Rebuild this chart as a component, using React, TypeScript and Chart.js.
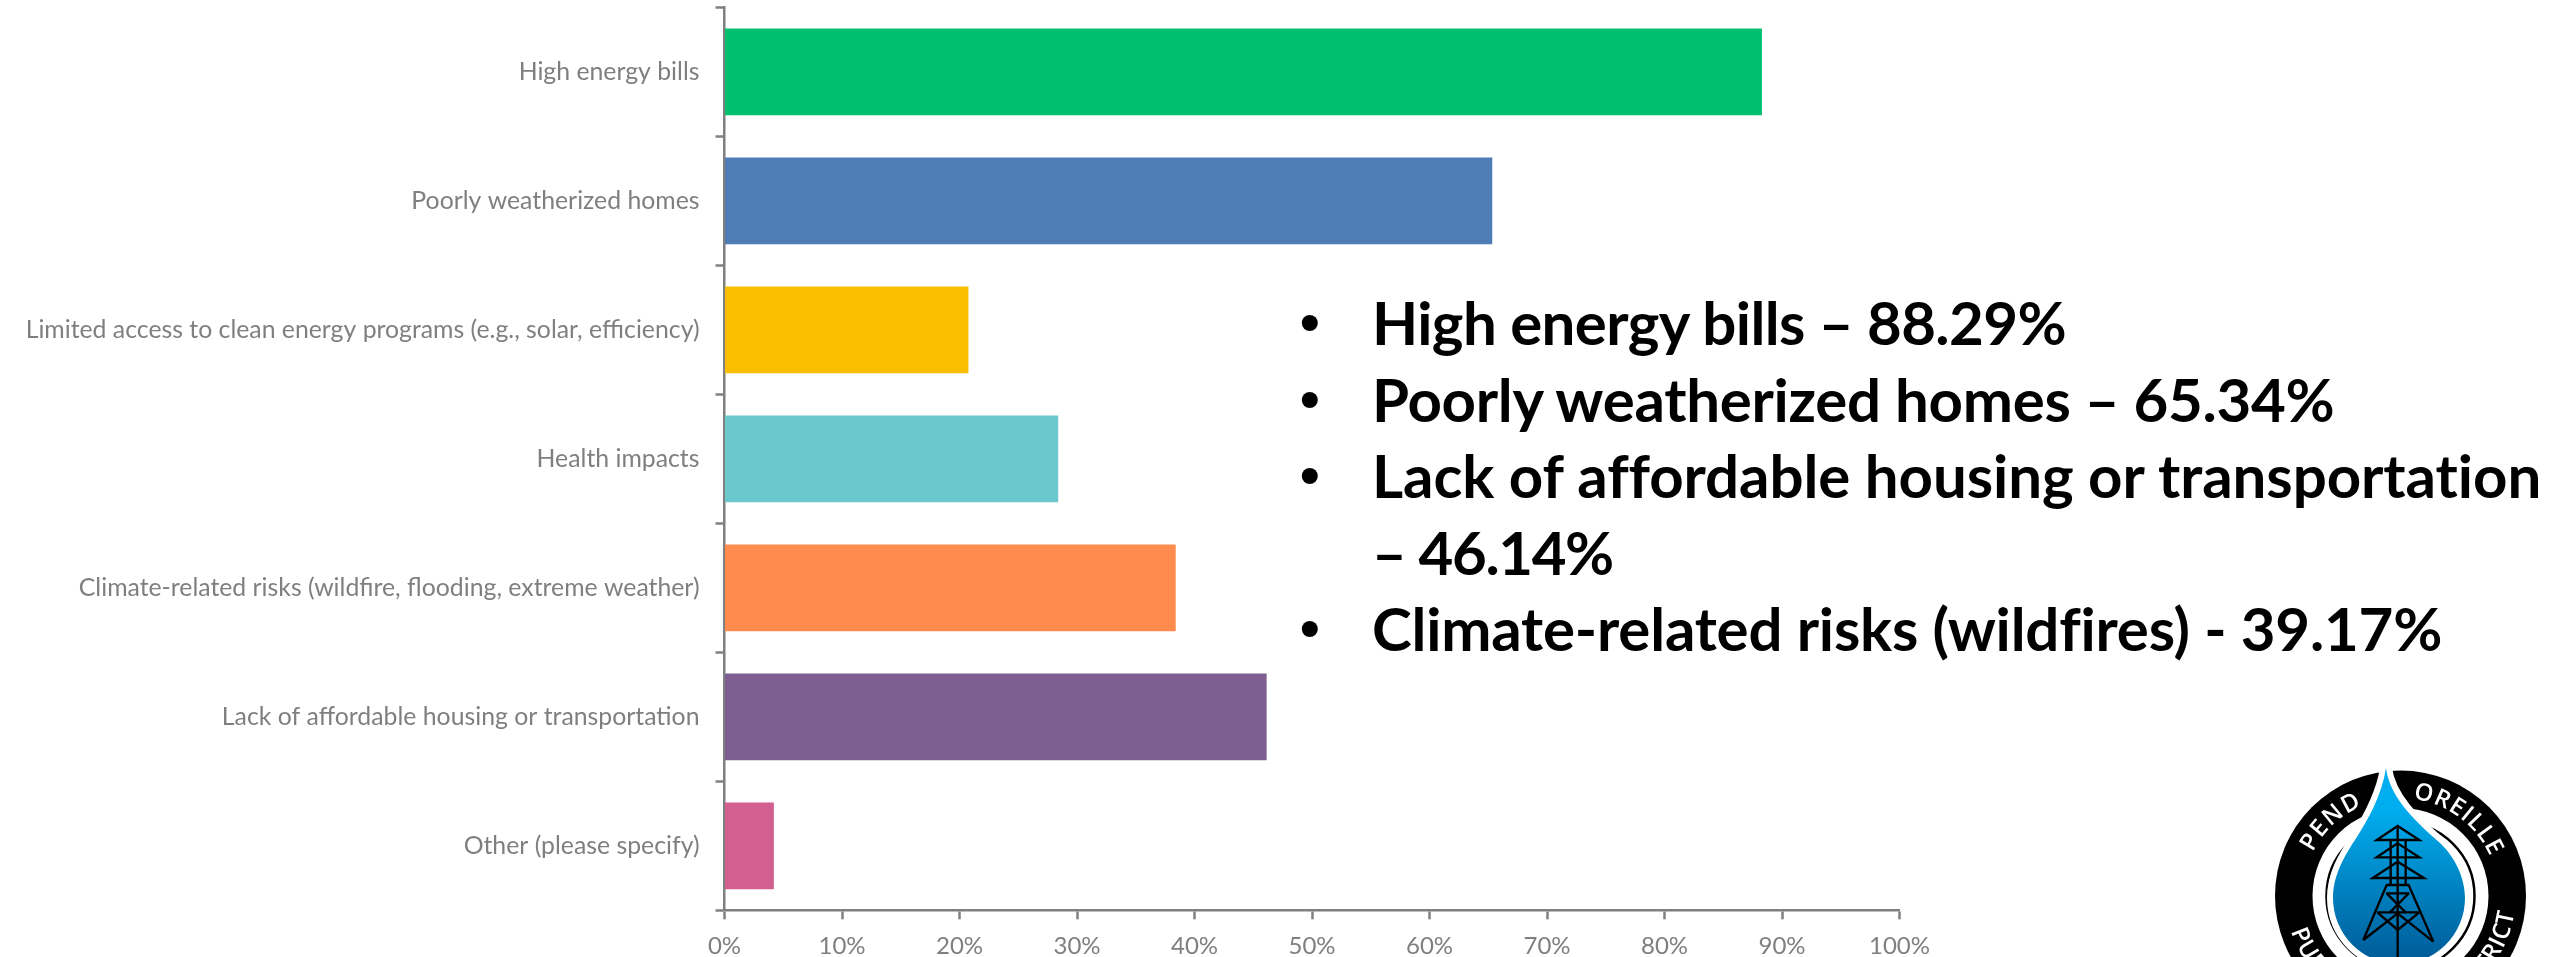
import React, { useEffect, useRef } from "react";
import { Chart, registerables } from "chart.js";

Chart.register(...registerables);

const categories = [
  "High energy bills",
  "Poorly weatherized homes",
  "Limited access to clean energy programs (e.g., solar, efficiency)",
  "Health impacts",
  "Climate-related risks (wildfire, flooding, extreme weather)",
  "Lack of affordable housing or transportation",
  "Other (please specify)",
];
const values = [88.29, 65.34, 20.76, 28.4, 38.4, 46.14, 4.2];
const barColors = ["#00BF6F", "#507CB6", "#F9BE00", "#6BC8CD", "#FF8B4F", "#7F5F90", "#D25F90"];
const summaryLines = [
  { bullet: true, text: "High energy bills – 88.29%" },
  { bullet: true, text: "Poorly weatherized homes – 65.34%" },
  { bullet: true, text: "Lack of affordable housing or transportation" },
  { bullet: false, text: "– 46.14%" },
  { bullet: true, text: "Climate-related risks (wildfires) - 39.17%" },
];
const summarySpacing = [-0.6, -0.3, -0.07, -1.4, -0.2];

const GRAY = "#7F7F7F";
const FONT = "Lato";
const towerLines = [
  "M473 228 L410 270 L538 270 Z",
  "M473 280 L410 322 L538 322 Z",
  "M473 335 L398 384 L552 384 Z",
  "M452 270 V405 M497 270 V405 M473 228 V621",
  "M438 405 H508 M438 430 H508",
  "M440 405 L370 570 M506 405 L580 575",
  "M412 487 H538",
  "M440 430 L497 487 M506 430 L450 487",
  "M412 487 L473 540 L538 487",
  "M370 570 L473 490 M580 575 L473 490",
];

function arc(r: number, from: number, to: number, cw: boolean) {
  const cx = 2400.5;
  const cy = 896;
  const p = (a: number) => {
    const t = (a * Math.PI) / 180;
    return `${cx + r * Math.sin(t)} ${cy - r * Math.cos(t)}`;
  };
  const large = Math.abs(to - from) > 180 ? 1 : 0;
  return `M${p(from)} A${r} ${r} 0 ${large} ${cw ? 1 : 0} ${p(to)}`;
}

function Logo() {
  const drop =
    "M2386 768 C2390 800 2420 825 2440 843 C2455 857 2465 878 2465 898 A66 66 0 0 1 2333 898 C2333 875 2345 855 2355 840 C2368 820 2382 795 2386 768 Z";
  const labelStyle = { fontFamily: "'Open Sans'", fontSize: 24, fontWeight: 600, fill: "#fff" };
  return (
    <svg width={2552} height={957} style={{ position: "absolute", left: 0, top: 0 }}>
      <defs>
        <linearGradient id="dropFill" x1="0" y1="0" x2="0" y2="1">
          <stop offset="0.2" stopColor="#00AEEF" />
          <stop offset="1" stopColor="#005A96" />
        </linearGradient>
        <path id="arcPend" d={arc(98, -100, 14, true)} />
        <path id="arcOreille" d={arc(98, -30, 104, true)} />
        <path id="arcBottom" d={arc(115, 280, 70, false)} />
      </defs>
      <circle cx={2400.5} cy={896} r={125.5} fill="#000" />
      <circle cx={2400.5} cy={896} r={88} fill="#fff" />
      <circle cx={2400.5} cy={896} r={74} fill="none" stroke="#000" strokeWidth={2.5} />
      <path d={drop} fill="#fff" stroke="#fff" strokeWidth={12} strokeLinejoin="miter" />
      <path d={drop} fill="url(#dropFill)" />
      <g transform="translate(2240 750) scale(0.3333)" fill="none" stroke="#000" strokeWidth={7}>
        {towerLines.map((d) => (
          <path key={d} d={d} />
        ))}
      </g>
      <text style={labelStyle} letterSpacing={1.5} textAnchor="middle">
        <textPath href="#arcPend" startOffset="50%">PEND</textPath>
      </text>
      <text style={labelStyle} letterSpacing={1} textAnchor="middle">
        <textPath href="#arcOreille" startOffset="50%">OREILLE</textPath>
      </text>
      <text style={labelStyle} letterSpacing={1} textAnchor="middle">
        <textPath href="#arcBottom" startOffset="50%">PUBLIC UTILITY DISTRICT</textPath>
      </text>
    </svg>
  );
}

export default function App() {
  const ref = useRef<HTMLCanvasElement>(null);

  useEffect(() => {
    document.body.style.margin = "0";
    const chart = new Chart(ref.current!, {
      type: "bar",
      data: {
        labels: categories,
        datasets: [
          {
            data: values,
            backgroundColor: barColors,
            barPercentage: 0.673,
            categoryPercentage: 1,
          },
        ],
      },
      options: {
        indexAxis: "y",
        animation: false,
        responsive: false,
        devicePixelRatio: 1,
        layout: { padding: { top: 7.3, right: 652.5, left: 0, bottom: 0 } },
        plugins: { legend: { display: false }, tooltip: { enabled: false } },
        scales: {
          x: {
            min: 0,
            max: 100,
            afterFit: (s: any) => {
              s.height = 46.7;
            },
            border: { color: GRAY, width: 2.5 },
            grid: {
              drawOnChartArea: false,
              drawTicks: true,
              tickLength: 9,
              tickColor: GRAY,
              tickWidth: 2.5,
            },
            ticks: {
              stepSize: 10,
              color: GRAY,
              padding: 13,
              maxRotation: 0,
              font: { family: FONT, size: 24 },
              callback: (v: any) => `${v}%`,
            },
          },
          y: {
            afterFit: (s: any) => {
              s.width = 724.5;
              s.paddingTop = 0;
              s.paddingBottom = 0;
            },
            border: { color: GRAY, width: 2.5 },
            grid: {
              drawOnChartArea: false,
              drawTicks: true,
              offset: true,
              tickLength: 9,
              tickColor: GRAY,
              tickWidth: 2.5,
            },
            ticks: {
              color: GRAY,
              padding: 16,
              autoSkip: false,
              font: { family: FONT, size: 24.8 },
            },
          },
        },
      },
    } as any);
    return () => chart.destroy();
  }, []);

  return (
    <div style={{ position: "relative", width: 2552, height: 957, overflow: "hidden", background: "#fff" }}>
      <canvas ref={ref} width={2552} height={957} style={{ position: "absolute", left: 0, top: 0, width: 2552, height: 957 }} />
      {summaryLines.map((line, i) => (
        <div
          key={line.text}
          style={{
            position: "absolute",
            left: 1372,
            top: 344 + i * 76.6 - 60,
            lineHeight: "76px",
            fontFamily: FONT,
            fontWeight: 700,
            fontSize: 60,
            fontVariantLigatures: "none",
            letterSpacing: summarySpacing[i],
            color: "#000",
            whiteSpace: "nowrap",
          }}
        >
          {line.bullet && (
            <span style={{ position: "absolute", left: -72, top: 0, fontFamily: "'Liberation Sans'", fontSize: 56, letterSpacing: 0 }}>•</span>
          )}
          {line.text}
        </div>
      ))}
      <Logo />
    </div>
  );
}
